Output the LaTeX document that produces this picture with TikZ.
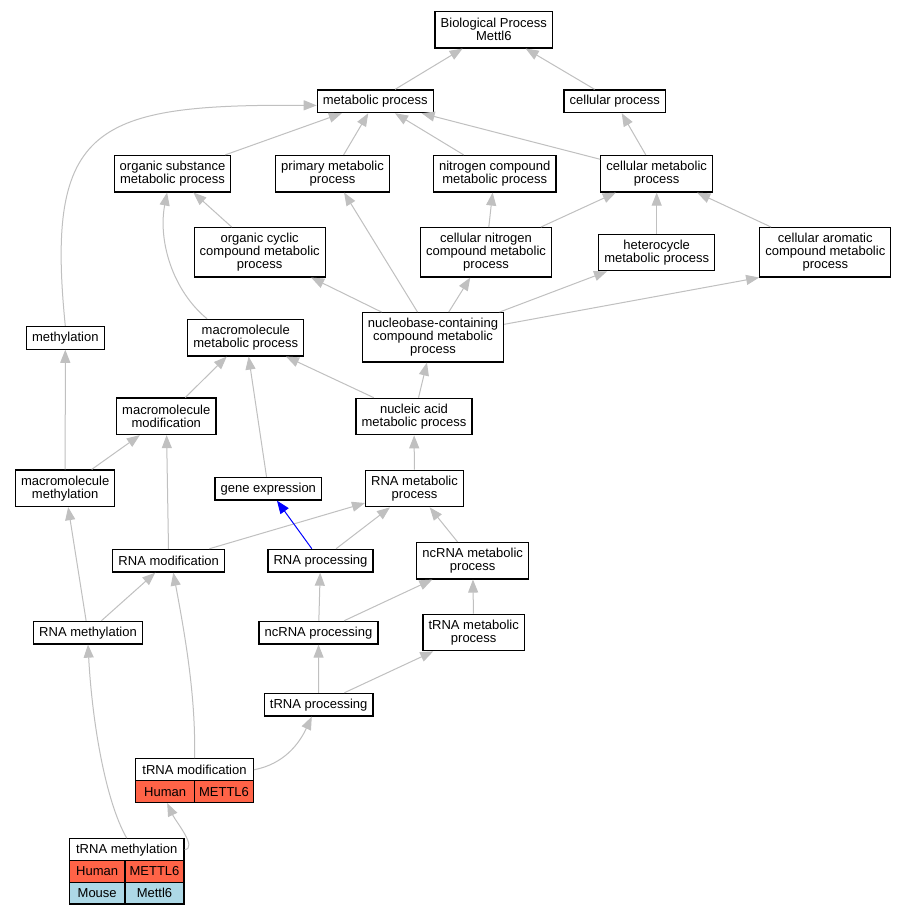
\documentclass[tikz,border=0pt]{standalone}
\usepackage{fontspec}
\setmainfont{Liberation Sans}
\usetikzlibrary{arrows.meta}
\definecolor{edgegray}{RGB}{192,192,192}
\definecolor{humanred}{RGB}{255,99,71}
\definecolor{mouseblue}{RGB}{173,216,230}

\begin{document}
\begin{tikzpicture}[x=1pt,y=-1pt,
  goterm/.style={rectangle,draw=black,line width=1.2pt,inner xsep=5.6pt,inner ysep=3pt,align=center,minimum height=22.7pt,font=\fontsize{13}{13.3}\selectfont},
  goterm2/.style={goterm,minimum height=36.5pt},
  goterm3/.style={goterm,minimum height=49.3pt},
  tabcell/.style={goterm,inner xsep=0pt,minimum height=21.7pt},
  human/.style={tabcell,fill=humanred},
  mouse/.style={tabcell,fill=mouseblue},
  isa/.style={edgegray,line width=1pt,-{Triangle[length=13pt,width=10pt]}},
  isablue/.style={isa,blue}]
\path[use as bounding box,fill=white] (0,0) rectangle (907,915);

\node[goterm2] (bp) at (493.8,29.7) {Biological Process\\Mettl6};
\node[goterm] (meta) at (375.3,101.3) {metabolic process};
\node[goterm] (cellp) at (614.8,101.3) {cellular process};
\node[goterm2] (orgsub) at (172.5,173.7) {organic substance\\metabolic process};
\node[goterm2] (prim) at (332.5,173.7) {primary metabolic\\process};
\node[goterm2] (nitro) at (494.7,173.7) {nitrogen compound\\metabolic process};
\node[goterm2] (cellmet) at (656.7,173.8) {cellular metabolic\\process};
\node[goterm3] (orgcyc) at (259.7,252.3) {organic cyclic\\compound metabolic\\process};
\node[goterm3] (cellnit) at (486,252.3) {cellular nitrogen\\compound metabolic\\process};
\node[goterm2] (hetero) at (656.7,252.5) {heterocycle\\metabolic process};
\node[goterm3] (arom) at (825.3,252.3) {cellular aromatic\\compound metabolic\\process};
\node[goterm] (meth) at (65.3,337.8) {methylation};
\node[goterm2] (macro) at (245.8,337.7) {macromolecule\\metabolic process};
\node[goterm3] (nucleo) at (433,337.3) {nucleobase-containing\\compound metabolic\\process};
\node[goterm2] (macmod) at (166.3,416.3) {macromolecule\\modification};
\node[goterm2] (nucac) at (414,416.5) {nucleic acid\\metabolic process};
\node[goterm2] (macmeth) at (65.2,488.3) {macromolecule\\methylation};
\node[goterm] (genex) at (268.3,488.7) {gene expression};
\node[goterm2] (rnamet) at (414.5,488.5) {RNA metabolic\\process};
\node[goterm] (rnamod) at (168.7,560.7) {RNA modification};
\node[goterm] (rnaproc) at (320.5,560.7) {RNA processing};
\node[goterm2] (ncmet) at (472.7,560.7) {ncRNA metabolic\\process};
\node[goterm] (rnameth) at (88,632.7) {RNA methylation};
\node[goterm] (ncproc) at (318.5,632.7) {ncRNA processing};
\node[goterm2] (tmet) at (473.7,632.5) {tRNA metabolic\\process};
\node[goterm] (tproc) at (318.7,704.7) {tRNA processing};

\node[tabcell,minimum width=117.6pt,minimum height=22.3pt] (tmod) at (194.5,769.8) {tRNA modification};
\node[human,minimum width=59pt] (tmodA) at (165.2,791.7) {Human};
\node[human,minimum width=58.6pt] (tmodB) at (224,791.7) {METTL6};

\node[tabcell,minimum width=114.7pt,minimum height=22pt] (tmeth) at (126.7,849.7) {tRNA methylation};
\node[human,minimum width=55.7pt] (tmethA) at (97.2,871.5) {Human};
\node[human,minimum width=59pt] (tmethB) at (154.5,871.5) {METTL6};
\node[mouse,minimum width=55.7pt] (tmethC) at (97.2,893.2) {Mouse};
\node[mouse,minimum width=59pt] (tmethD) at (154.5,893.2) {Mettl6};

\path[isa] (meta) edge (bp);
\path[isa] (cellp) edge (bp);
\path[isa] (orgsub) edge (meta);
\path[isa] (prim) edge (meta);
\path[isa] (nitro) edge (meta);
\path[isa] (cellmet) edge (meta);
\path[isa] (cellmet) edge (cellp);
\draw[isa] (meth.north) .. controls (45,125) and (95,104) .. (meta.184);
\path[isa] (orgcyc) edge (orgsub);
\draw[isa] (macro.154) .. controls (172,290) and (158,240) .. (orgsub.254);
\path[isa] (cellnit) edge (nitro);
\path[isa] (cellnit) edge (cellmet);
\path[isa] (hetero) edge (cellmet);
\path[isa] (arom) edge (cellmet);
\path[isa] (nucleo) edge (orgcyc);
\path[isa] (nucleo) edge (prim);
\path[isa] (nucleo) edge (cellnit);
\path[isa] (nucleo) edge (hetero);
\path[isa] (nucleo) edge (arom.south west);
\path[isa] (macmod) edge (macro);
\path[isa] (nucac) edge (macro);
\path[isa] (genex) edge (macro);
\path[isa] (nucac) edge (nucleo);
\path[isa] (macmeth) edge (meth);
\path[isa] (macmeth) edge (macmod);
\path[isa] (rnamet) edge (nucac);
\path[isa] (rnamod) edge (macmod);
\path[isa] (rnamod) edge (rnamet);
\path[isablue] (rnaproc) edge (genex);
\path[isa] (rnaproc) edge (rnamet);
\path[isa] (ncmet) edge (rnamet);
\path[isa] (rnameth) edge (macmeth);
\path[isa] (rnameth) edge (rnamod);
\path[isa] (ncproc) edge (rnaproc);
\path[isa] (ncproc) edge (ncmet);
\path[isa] (tmet) edge (ncmet);
\path[isa] (tproc) edge (ncproc);
\path[isa] (tproc) edge (tmet);
\draw[isa] (tmod.north) .. controls (196,700) and (186,640) .. (rnamod.-69);
\draw[isa] (tmod.east) .. controls (284,764) and (299,744) .. (tproc.240);
\draw[isa] (tmeth.north) .. controls (105,800) and (92,720) .. (rnameth.south);
\draw[isa] (tmeth.east) .. controls (198,848) and (176,822) .. (tmodA.-80);
\end{tikzpicture}
\end{document}
